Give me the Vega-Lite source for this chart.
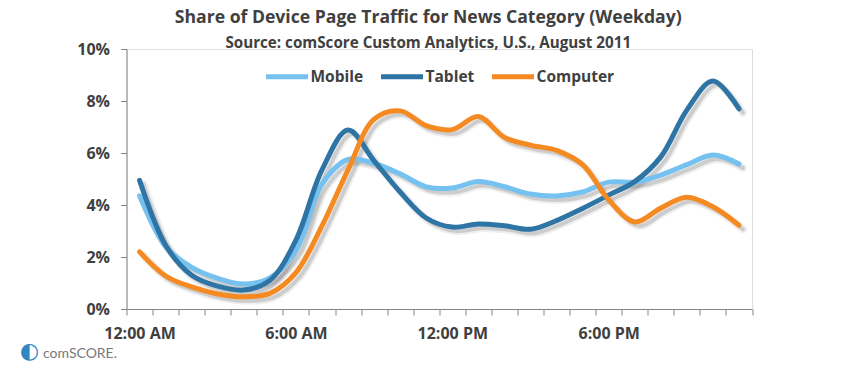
{"$schema":"https://vega.github.io/schema/vega-lite/v6.json","width":625.5,"height":260,"autosize":{"type":"none"},"padding":{"left":126.5,"top":49,"right":97,"bottom":66},"background":"white",
"title":{"text":"Share of Device Page Traffic for News Category (Weekday)","subtitle":"Source: comScore Custom Analytics, U.S., August 2011","font":"Open Sans","fontSize":17.6,"fontWeight":"bold","color":"#404040","subtitleFont":"Open Sans","subtitleFontSize":15.2,"subtitleFontWeight":"bold","subtitleColor":"#404040","subtitlePadding":9,"anchor":"middle","dx":-11,"offset":-10},
"data":{"values":[
{"hour":"12:00 AM","series":"Mobile","value":4.35},{"hour":"1:00 AM","series":"Mobile","value":2.4},{"hour":"2:00 AM","series":"Mobile","value":1.6},{"hour":"3:00 AM","series":"Mobile","value":1.18},{"hour":"4:00 AM","series":"Mobile","value":0.96},{"hour":"5:00 AM","series":"Mobile","value":1.2},{"hour":"6:00 AM","series":"Mobile","value":2.25},{"hour":"7:00 AM","series":"Mobile","value":4.8},{"hour":"8:00 AM","series":"Mobile","value":5.75},{"hour":"9:00 AM","series":"Mobile","value":5.6},{"hour":"10:00 AM","series":"Mobile","value":5.2},{"hour":"11:00 AM","series":"Mobile","value":4.7},{"hour":"12:00 PM","series":"Mobile","value":4.65},{"hour":"1:00 PM","series":"Mobile","value":4.9},{"hour":"2:00 PM","series":"Mobile","value":4.7},{"hour":"3:00 PM","series":"Mobile","value":4.42},{"hour":"4:00 PM","series":"Mobile","value":4.35},{"hour":"5:00 PM","series":"Mobile","value":4.5},{"hour":"6:00 PM","series":"Mobile","value":4.88},{"hour":"7:00 PM","series":"Mobile","value":4.88},{"hour":"8:00 PM","series":"Mobile","value":5.15},{"hour":"9:00 PM","series":"Mobile","value":5.55},{"hour":"10:00 PM","series":"Mobile","value":5.92},{"hour":"11:00 PM","series":"Mobile","value":5.58},
{"hour":"12:00 AM","series":"Tablet","value":4.95},{"hour":"1:00 AM","series":"Tablet","value":2.45},{"hour":"2:00 AM","series":"Tablet","value":1.3},{"hour":"3:00 AM","series":"Tablet","value":0.88},{"hour":"4:00 AM","series":"Tablet","value":0.73},{"hour":"5:00 AM","series":"Tablet","value":1.1},{"hour":"6:00 AM","series":"Tablet","value":2.65},{"hour":"7:00 AM","series":"Tablet","value":5.35},{"hour":"8:00 AM","series":"Tablet","value":6.88},{"hour":"9:00 AM","series":"Tablet","value":5.7},{"hour":"10:00 AM","series":"Tablet","value":4.5},{"hour":"11:00 AM","series":"Tablet","value":3.5},{"hour":"12:00 PM","series":"Tablet","value":3.15},{"hour":"1:00 PM","series":"Tablet","value":3.27},{"hour":"2:00 PM","series":"Tablet","value":3.2},{"hour":"3:00 PM","series":"Tablet","value":3.07},{"hour":"4:00 PM","series":"Tablet","value":3.4},{"hour":"5:00 PM","series":"Tablet","value":3.87},{"hour":"6:00 PM","series":"Tablet","value":4.38},{"hour":"7:00 PM","series":"Tablet","value":4.9},{"hour":"8:00 PM","series":"Tablet","value":5.85},{"hour":"9:00 PM","series":"Tablet","value":7.65},{"hour":"10:00 PM","series":"Tablet","value":8.77},{"hour":"11:00 PM","series":"Tablet","value":7.7},
{"hour":"12:00 AM","series":"Computer","value":2.2},{"hour":"1:00 AM","series":"Computer","value":1.27},{"hour":"2:00 AM","series":"Computer","value":0.85},{"hour":"3:00 AM","series":"Computer","value":0.58},{"hour":"4:00 AM","series":"Computer","value":0.47},{"hour":"5:00 AM","series":"Computer","value":0.6},{"hour":"6:00 AM","series":"Computer","value":1.4},{"hour":"7:00 AM","series":"Computer","value":3.2},{"hour":"8:00 AM","series":"Computer","value":5.35},{"hour":"9:00 AM","series":"Computer","value":7.3},{"hour":"10:00 AM","series":"Computer","value":7.62},{"hour":"11:00 AM","series":"Computer","value":7.05},{"hour":"12:00 PM","series":"Computer","value":6.9},{"hour":"1:00 PM","series":"Computer","value":7.4},{"hour":"2:00 PM","series":"Computer","value":6.6},{"hour":"3:00 PM","series":"Computer","value":6.3},{"hour":"4:00 PM","series":"Computer","value":6.1},{"hour":"5:00 PM","series":"Computer","value":5.55},{"hour":"6:00 PM","series":"Computer","value":4.2},{"hour":"7:00 PM","series":"Computer","value":3.35},{"hour":"8:00 PM","series":"Computer","value":3.88},{"hour":"9:00 PM","series":"Computer","value":4.3},{"hour":"10:00 PM","series":"Computer","value":3.93},{"hour":"11:00 PM","series":"Computer","value":3.22}
]},
"encoding":{
"x":{"field":"hour","type":"nominal","sort":null,"scale":{"type":"band","paddingInner":0,"paddingOuter":0},"axis":{"title":"comSCORE.","titleFont":"Lato","titleFontSize":14,"titleFontWeight":"normal","titleColor":"#77787b","titleAnchor":"start","titleAlign":"left","titleX":-84,"titleY":37,"tickBand":"extent","tickSize":6,"tickColor":"#868686","domainColor":"#868686","labelAngle":0,"labelOverlap":false,"labelFont":"Open Sans","labelFontSize":16,"labelFontWeight":"bold","labelColor":"#404040","labelPadding":10,"labelExpr":"indexof(['12:00 AM','6:00 AM','12:00 PM','6:00 PM'],datum.label)>=0?datum.label:''"}},
"y":{"field":"value","type":"quantitative","scale":{"domain":[0,10],"nice":false},"axis":{"title":"◐","titleFont":"DejaVu Sans","titleFontSize":22,"titleFontWeight":"normal","titleColor":"#2f86c5","titleAngle":0,"titleAlign":"center","titleBaseline":"middle","titleX":-97.5,"titleY":301,"values":[0,2,4,6,8,10],"grid":false,"tickSize":6,"tickColor":"#868686","domainColor":"#868686","labelFont":"Open Sans","labelFontSize":16,"labelFontWeight":"bold","labelColor":"#404040","labelPadding":11,"labelExpr":"datum.value+'%'"}}
},
"layer":[
{"mark":{"type":"line","interpolate":"catmull-rom","strokeWidth":8,"xOffset":4,"yOffset":4,"strokeCap":"round","opacity":0.1,"color":"#666666"},"encoding":{"detail":{"field":"series"}}},
{"mark":{"type":"line","interpolate":"catmull-rom","strokeWidth":4,"xOffset":4,"yOffset":4,"strokeCap":"round","opacity":0.25,"color":"#666666"},"encoding":{"detail":{"field":"series"}}},
{"mark":{"type":"line","interpolate":"catmull-rom","strokeWidth":5,"strokeCap":"round"},"encoding":{"color":{"field":"series","type":"nominal","sort":null,"scale":{"domain":["Mobile","Tablet","Computer"],"range":["#75c1f0","#2e75a6","#f58a23"]},"legend":{"title":null,"orient":"none","legendX":137,"legendY":4,"direction":"horizontal","symbolType":"stroke","symbolSize":1764,"symbolStrokeWidth":5,"labelFont":"Open Sans","labelFontSize":15.5,"labelFontWeight":"bold","labelColor":"#404040","labelOffset":0,"columnPadding":7}}}}
]}
